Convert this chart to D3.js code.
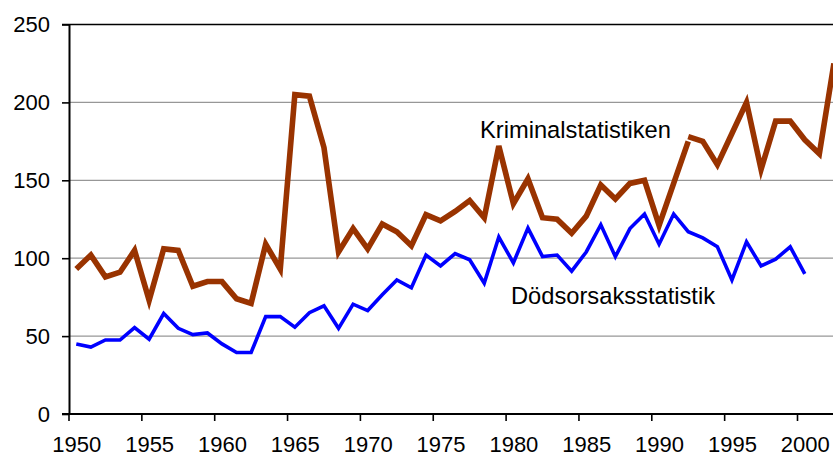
<!DOCTYPE html>
<html>
<head>
<meta charset="utf-8">
<script src="https://cdn.jsdelivr.net/npm/d3@7"></script>
<style>
    body { margin: 0; background: #fff; }
    svg { display: block; font-family: "Liberation Sans", Arial, sans-serif; }
</style>
</head>
<body>
<div id="chart"></div>
<script>
const years = d3.range(1950, 2003)

// Kriminalstatistiken, old series 1950-1992
const krimOldYears = d3.range(1950, 1993)
const krimOld = [93, 102, 88, 91, 105, 73, 106, 105, 82, 85,
    85, 74, 71, 109, 93, 205, 204, 171, 104, 119,
    106, 122, 117, 108, 128, 124, 130, 137, 126, 172,
    135, 151, 126, 125, 116, 127, 147, 138, 148, 150,
    121, 148, 175]

// Kriminalstatistiken, new series 1992-2002
const krimNewYears = d3.range(1992, 2003)
const krimNew = [178, 175, 160, 180, 200, 157, 188, 188, 176, 167, 225]

// Dödsorsaksstatistik 1950-2000
const dodsYears = d3.range(1950, 2001)
const dods = [45, 43, 47.5, 47.5, 55.5, 48, 64.5, 55, 51, 52,
    45, 39.5, 39.5, 62.5, 62.5, 55.7, 65, 69.4, 55, 70.5,
    66.4, 76.5, 86, 81, 102, 95, 103, 99, 84, 113.6,
    97, 119.3, 101, 102, 91.7, 104, 121.5, 101, 119, 128.4,
    109, 128.4, 117, 113, 107.3, 86, 110.5, 95, 99.4, 107.3,
    90]

const yTicks = [0, 50, 100, 150, 200, 250]
const xTickYears = d3.range(1950, 2001, 5)

const width = 833
const height = 457
const left = 69
const step = 14.57

const svg = d3.select("#chart").append("svg")
    .attr("width", width)
    .attr("height", height)

const x = d3.scalePoint()
    .domain(years)
    .range([left, left + step * years.length])
    .padding(0.5)

const y = d3.scaleLinear()
    .domain([0, 250])
    .range([414, 24.5])

const right = left + step * years.length

// gridlines
svg.append("g")
    .selectAll("line")
    .data(yTicks.filter(v => v > 0 && v < 250))
    .enter()
    .append("line")
    .attr("x1", left)
    .attr("x2", right)
    .attr("y1", d => y(d))
    .attr("y2", d => y(d))
    .attr("stroke", "#979797")
    .attr("stroke-width", 1.2)

// top border
svg.append("line")
    .attr("x1", left - 7)
    .attr("x2", right)
    .attr("y1", y(250))
    .attr("y2", y(250))
    .attr("stroke", "#000")
    .attr("stroke-width", 1.6)

// y axis
const yAxis = svg.append("g")
    .attr("transform", `translate(${left},0)`)
    .call(d3.axisLeft(y).tickValues(yTicks).tickSize(7).tickSizeOuter(0).tickPadding(12))
yAxis.select(".domain").attr("stroke-width", 2)
yAxis.selectAll(".tick line").attr("stroke-width", 1.6)
yAxis.selectAll("text")
    .attr("font-size", 22)
    .attr("fill", "#000")
    .attr("font-family", "'Liberation Sans', Arial, sans-serif")

// x axis
svg.append("line")
    .attr("x1", left - 7)
    .attr("x2", right)
    .attr("y1", y(0))
    .attr("y2", y(0))
    .attr("stroke", "#000")
    .attr("stroke-width", 2)

svg.append("g")
    .selectAll("line")
    .data(xTickYears)
    .enter()
    .append("line")
    .attr("x1", d => x(d) - x.step() / 2)
    .attr("x2", d => x(d) - x.step() / 2)
    .attr("y1", y(0))
    .attr("y2", y(0) + 7)
    .attr("stroke", "#000")
    .attr("stroke-width", 1.6)

svg.append("g")
    .selectAll("text")
    .data(xTickYears)
    .enter()
    .append("text")
    .attr("x", d => x(d) + 0.5)
    .attr("y", 452)
    .attr("text-anchor", "middle")
    .attr("font-size", 22)
    .text(d => d)

const line = d3.line()
    .x(d => x(d[0]))
    .y(d => y(d[1]))

svg.append("path")
    .datum(d3.zip(dodsYears, dods))
    .attr("d", line)
    .attr("fill", "none")
    .attr("stroke", "#0000ff")
    .attr("stroke-width", 3.6)

svg.append("path")
    .datum(d3.zip(krimOldYears, krimOld))
    .attr("d", line)
    .attr("fill", "none")
    .attr("stroke", "#993300")
    .attr("stroke-width", 5.6)

svg.append("path")
    .datum(d3.zip(krimNewYears, krimNew))
    .attr("d", line)
    .attr("fill", "none")
    .attr("stroke", "#993300")
    .attr("stroke-width", 5.6)

// series labels
svg.append("text")
    .attr("x", 480)
    .attr("y", 138)
    .attr("font-size", 23.7)
    .text("Kriminalstatistiken")

svg.append("text")
    .attr("x", 511)
    .attr("y", 304)
    .attr("font-size", 23.7)
    .text("Dödsorsaksstatistik")
</script>
</body>
</html>
